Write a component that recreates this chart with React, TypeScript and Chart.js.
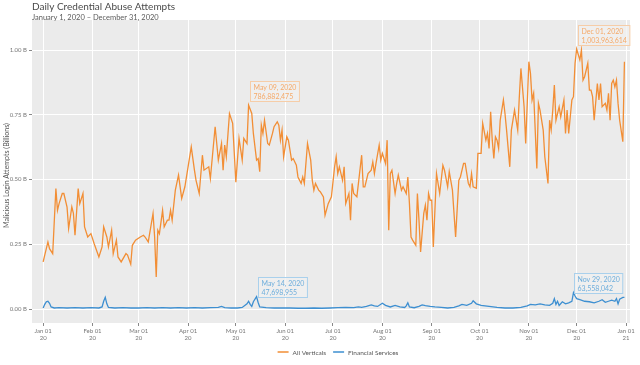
import { useEffect, useRef } from "react";
import { Chart, registerables } from "chart.js";

Chart.register(...registerables);

// Day index (0 = Jan 01 2020) and value in billions
const allVerticalsDays = [
  0, 1, 3, 4, 6, 8, 9, 10, 12, 13, 15, 16, 18, 19, 20, 22, 23, 25, 26, 28, 30, 32, 35, 37, 38, 40, 41, 43, 44, 46, 47, 49,
  52, 53, 55, 56, 58, 61, 63, 64, 66, 69, 70, 71, 72, 73, 75, 76, 78, 79, 80, 81, 83, 85, 87, 89, 91, 93, 95, 96, 98,
  100, 101, 104, 105, 108, 110, 112, 113, 114, 115, 117, 119, 121, 123, 125, 126, 128, 129, 131, 132, 134, 135, 136,
  137, 138, 139, 141, 142, 144, 145, 147, 148, 149, 150, 151, 153, 154, 156, 157, 159, 160, 162, 163, 164, 166, 168,
  169, 170, 171, 173, 174, 176, 177, 179, 181, 183, 184, 185, 186, 188, 189, 190, 192, 193, 194, 195, 197, 200, 201,
  202, 204, 206, 207, 208, 209, 211, 212, 213, 215, 216, 217, 218, 219, 221, 222, 223, 225, 226, 228, 229, 230, 231,
  232, 234, 235, 236, 237, 239, 240, 241, 242, 243, 244, 245, 247, 249, 251, 252, 254, 255, 257, 259, 261, 262, 264,
  265, 267, 268, 269, 270, 272, 273, 275, 276, 278, 279, 280, 281, 282, 283, 284, 285, 286, 287, 289, 290, 291, 293,
  294, 295, 296, 298, 299, 300, 302, 303, 305, 306, 307, 308, 310, 311, 312, 314, 315, 317, 318, 319, 320, 321, 322,
  324, 325, 327, 328, 329, 330, 332, 333, 334, 335, 337, 338, 339, 340, 342, 343, 344, 345, 346, 348, 349, 350, 351,
  353, 354, 355, 356, 357, 358, 359, 360, 361, 362, 364, 365,
];
const allVerticalsValues = [
  0.182, 0.208, 0.259, 0.233, 0.214, 0.465, 0.381, 0.407, 0.446, 0.446, 0.394, 0.311, 0.394, 0.369, 0.285, 0.465, 0.407,
  0.446, 0.317, 0.278, 0.291, 0.253, 0.201, 0.24, 0.317, 0.278, 0.24, 0.304, 0.214, 0.266, 0.201, 0.182,
  0.214, 0.208, 0.173, 0.246, 0.266, 0.278, 0.285, 0.278, 0.259, 0.369, 0.278, 0.124, 0.304, 0.291, 0.381, 0.317, 0.343,
  0.343, 0.381, 0.343, 0.459, 0.517, 0.427, 0.472, 0.549, 0.626, 0.536, 0.497, 0.446,
  0.594, 0.536, 0.549, 0.504, 0.704, 0.575, 0.639, 0.536, 0.633, 0.588, 0.755, 0.717, 0.49, 0.659, 0.575, 0.659, 0.639,
  0.787, 0.755, 0.678, 0.575, 0.581, 0.53,
  0.71, 0.678, 0.729, 0.639, 0.633, 0.678, 0.704, 0.723, 0.71, 0.652, 0.691, 0.588, 0.665, 0.652, 0.575, 0.581, 0.555,
  0.51, 0.485, 0.51, 0.485, 0.639, 0.575,
  0.497, 0.459, 0.485, 0.459, 0.453, 0.433, 0.362, 0.407, 0.433, 0.549, 0.588, 0.523, 0.549, 0.497, 0.549, 0.407, 0.446,
  0.343, 0.485, 0.446, 0.433, 0.594, 0.472,
  0.472, 0.523, 0.536, 0.568, 0.523, 0.562, 0.633, 0.575, 0.601, 0.562, 0.652, 0.304, 0.523, 0.536, 0.446, 0.485, 0.517,
  0.459, 0.472, 0.446, 0.51, 0.407, 0.278,
  0.266, 0.246, 0.446, 0.343, 0.22, 0.369, 0.401, 0.343, 0.446, 0.42, 0.42, 0.24, 0.523, 0.446, 0.555, 0.536, 0.472, 0.53,
  0.459, 0.278, 0.497, 0.51, 0.562,
  0.562, 0.485, 0.472, 0.523, 0.472, 0.466, 0.601, 0.601, 0.717, 0.652, 0.678, 0.62, 0.762, 0.652, 0.581, 0.665, 0.652,
  0.62, 0.729, 0.807, 0.755, 0.691, 0.549,
  0.691, 0.729, 0.768, 0.691, 0.82, 0.929, 0.781, 0.639, 0.955, 0.91, 0.807, 0.833, 0.543, 0.794, 0.768, 0.691, 0.588,
  0.485, 0.729, 0.691, 0.768, 0.865, 0.729,
  0.781, 0.742, 0.807, 0.678, 0.768, 0.678, 0.807, 0.82, 0.949, 1.004, 0.962, 1.0, 0.884, 0.897, 0.949, 0.845, 0.845,
  0.82, 0.729, 0.871, 0.807, 0.871, 0.781,
  0.794, 0.768, 0.833, 0.729, 0.871, 0.884, 0.858, 0.884, 0.794, 0.729, 0.646, 0.955,
];

const financialDays = [
  0, 1, 2, 3, 4, 5, 7, 10, 15, 20, 25, 30, 35, 37, 38, 39, 40, 41, 45, 50, 55, 60, 65, 70, 75, 80, 85, 90, 95, 100, 105,
  110, 112, 114, 118, 122, 125, 128, 129, 130, 131, 132, 134, 135, 136, 140, 145, 150, 155, 160, 165, 170, 175, 180, 185,
  190, 195, 198, 200, 203, 206, 208, 210, 213, 215, 218, 221, 224, 227, 228, 229, 230, 233, 236, 238, 240, 243, 246,
  250, 254, 258, 261, 263, 266, 269, 270, 272, 275, 280, 285, 290, 295, 300, 304, 306, 309, 312, 315, 318, 320, 321,
  322, 323, 324, 326, 328, 330, 332, 333, 334, 335, 337, 340, 343, 346, 349, 351, 353, 355, 357, 359, 360, 361, 362,
  364, 365,
];
const financialValues = [
  0.004, 0.018, 0.028, 0.03, 0.022, 0.008, 0.004, 0.005, 0.004, 0.005, 0.004, 0.005, 0.004, 0.008, 0.03, 0.045, 0.02,
  0.006, 0.004, 0.005, 0.004, 0.004, 0.005, 0.004, 0.005, 0.004, 0.005, 0.004, 0.005, 0.004, 0.005,
  0.006, 0.01, 0.005, 0.004, 0.004, 0.006, 0.02, 0.03, 0.018, 0.01, 0.028, 0.0477, 0.025, 0.008, 0.005, 0.004, 0.004,
  0.004, 0.003, 0.003, 0.004, 0.003, 0.004, 0.005,
  0.006, 0.005, 0.008, 0.006, 0.01, 0.016, 0.012, 0.01, 0.022, 0.014, 0.008, 0.014, 0.008, 0.006, 0.012, 0.024, 0.008,
  0.005, 0.01, 0.016, 0.013, 0.01, 0.008,
  0.006, 0.004, 0.006, 0.012, 0.018, 0.014, 0.022, 0.032, 0.02, 0.014, 0.01, 0.006, 0.004, 0.004, 0.006, 0.012, 0.018,
  0.016, 0.02, 0.016, 0.014, 0.022, 0.04,
  0.018, 0.03, 0.014, 0.028, 0.02, 0.024, 0.03, 0.0636, 0.05, 0.04, 0.036, 0.03, 0.028, 0.024, 0.03, 0.036, 0.026, 0.03,
  0.034, 0.03, 0.04, 0.02, 0.038,
  0.045, 0.045,
];

const monthTickDays = [0, 31, 60, 91, 121, 152, 182, 213, 244, 274, 305, 335, 366];
const monthTickLabels = [
  ["Jan 01", "20"], ["Feb 01", "20"], ["Mar 01", "20"], ["Apr 01", "20"], ["May 01", "20"], ["Jun 01", "20"],
  ["Jul 01", "20"], ["Aug 01", "20"], ["Sep 01", "20"], ["Oct 01", "20"], ["Nov 01", "20"], ["Dec 01", "20"],
  ["Jan 01", "21"],
];
const yTickValues = [0, 0.25, 0.5, 0.75, 1.0];
const yTickLabels = ["0.00 B", "0.25 B", "0.50 B", "0.75 B", "1.00 B"];

const seriesNames = ["All Verticals", "Financial Services"];
const seriesColors = ["#f28e35", "#3d8fd1"];
const annotationLineColors = ["#f5a968", "#6eaedc"];
const annotationBorderColors = ["#f6cda8", "#a9d0ec"];

const annotationDays = [129, 335, 134, 333];
const annotationValues = [0.786882475, 1.003963614, 0.047698955, 0.063558042];
const annotationDates = ["May 09, 2020", "Dec 01, 2020", "May 14, 2020", "Nov 29, 2020"];
const annotationTexts = ["786,882,475", "1,003,963,614", "47,698,955", "63,558,042"];
const annotationSeries = [0, 0, 1, 1];

const titleText = "Daily Credential Abuse Attempts";
const subtitleText = "January 1, 2020 \u2013 December 31, 2020";
const yAxisTitle = "Malicious Login Attempts (Billions)";
const FONT = "Lato, 'Noto Sans', sans-serif";

const decorPlugin = {
  id: "decor",
  beforeDraw(chart: any) {
    const { ctx, chartArea: a } = chart;
    ctx.save();
    ctx.fillStyle = "#ebebeb";
    ctx.fillRect(a.left, a.top, a.right - a.left, a.bottom - a.top);
    ctx.restore();
  },
  afterDatasetsDraw(chart: any) {
    const { ctx } = chart;
    const xs = chart.scales.x;
    const ys = chart.scales.y;
    ctx.save();
    ctx.font = `7px ${FONT}`;
    for (let i = 0; i < annotationDays.length; i++) {
      const s = annotationSeries[i];
      const px = xs.getPixelForValue(annotationDays[i]);
      const py = ys.getPixelForValue(annotationValues[i]);
      const w = Math.max(ctx.measureText(annotationDates[i]).width, ctx.measureText(annotationTexts[i]).width) + 6;
      const h = 20;
      const left = Math.round(px + 1) + 0.5;
      const bottom = Math.round(py - (s === 0 ? 4 : 0)) + 0.5;
      ctx.fillStyle = "rgba(240,240,240,0.75)";
      ctx.fillRect(left, bottom - h, w, h);
      ctx.strokeStyle = annotationBorderColors[s];
      ctx.lineWidth = 1;
      ctx.strokeRect(left, bottom - h, w, h);
      ctx.fillStyle = annotationLineColors[s];
      ctx.textBaseline = "alphabetic";
      ctx.textAlign = "left";
      ctx.fillText(annotationDates[i], left + 3, bottom - h + 8);
      ctx.fillText(annotationTexts[i], left + 3, bottom - h + 17);
    }
    ctx.restore();
  },
  afterDraw(chart: any) {
    const { ctx, chartArea: a } = chart;
    ctx.save();
    // titles
    ctx.textAlign = "left";
    ctx.textBaseline = "alphabetic";
    ctx.fillStyle = "#4a4a4a";
    ctx.font = `10px ${FONT}`;
    ctx.fillText(titleText, 32, 10);
    ctx.fillStyle = "#5a5a5a";
    ctx.font = `7.5px ${FONT}`;
    ctx.fillText(subtitleText, 32, 20);
    // y axis title
    ctx.save();
    ctx.translate(7, (a.top + a.bottom) / 2 + 4);
    ctx.rotate(-Math.PI / 2);
    ctx.textAlign = "center";
    ctx.textBaseline = "middle";
    ctx.fillStyle = "#555";
    ctx.font = `7px ${FONT}`;
    ctx.fillText(yAxisTitle, 0, 0);
    ctx.restore();
    // legend
    ctx.font = `6.5px ${FONT}`;
    const lineW = 11;
    const gapLineText = 4;
    const gapItems = 7;
    const widths = seriesNames.map((n) => ctx.measureText(n).width);
    let total = 0;
    widths.forEach((w, i) => {
      total += lineW + gapLineText + w + (i < widths.length - 1 ? gapItems : 0);
    });
    let x = 338 - total / 2;
    const ly = 352;
    seriesNames.forEach((n, i) => {
      ctx.strokeStyle = seriesColors[i];
      ctx.lineWidth = 1.5;
      ctx.beginPath();
      ctx.moveTo(x, ly);
      ctx.lineTo(x + lineW, ly);
      ctx.stroke();
      x += lineW + gapLineText;
      ctx.fillStyle = "#555";
      ctx.textAlign = "left";
      ctx.textBaseline = "middle";
      ctx.fillText(n, x, ly + 0.5);
      x += widths[i] + gapItems;
    });
    ctx.restore();
  },
};

export default function App() {
  const ref = useRef<HTMLCanvasElement>(null);
  useEffect(() => {
    if (!ref.current) return;
    const makePts = (d: number[], v: number[]) => d.map((x, i) => ({ x, y: v[i] }));
    const chart = new Chart(ref.current, {
      type: "line",
      data: {
        datasets: [
          {
            label: seriesNames[0],
            data: makePts(allVerticalsDays, allVerticalsValues),
            borderColor: seriesColors[0],
            backgroundColor: seriesColors[0],
            borderWidth: 1.3,
            pointRadius: 0,
            tension: 0,
          },
          {
            label: seriesNames[1],
            data: makePts(financialDays, financialValues),
            borderColor: seriesColors[1],
            backgroundColor: seriesColors[1],
            borderWidth: 1.3,
            pointRadius: 0,
            tension: 0,
          },
        ],
      },
      options: {
        animation: false,
        responsive: false,
        maintainAspectRatio: false,
        devicePixelRatio: 1,
        layout: { padding: { top: 20, right: 10, bottom: 22, left: 0 } },
        plugins: { legend: { display: false }, tooltip: { enabled: false }, title: { display: false } },
        scales: {
          x: {
            type: "linear",
            min: -7,
            max: 368.5,
            afterBuildTicks: (s: any) => {
              s.ticks = monthTickDays.map((v) => ({ value: v }));
            },
            afterFit: (s: any) => {
              s.height = 20;
            },
            ticks: {
              autoSkip: false,
              maxRotation: 0,
              padding: 1,
              color: "#777",
              font: { family: FONT, size: 6 },
              callback: (v: any) => {
                const i = monthTickDays.indexOf(Number(v));
                return i >= 0 ? monthTickLabels[i] : "";
              },
            },
            grid: { color: "#ffffff", lineWidth: 1, tickLength: 3, tickColor: "#888" },
            border: { display: false },
          },
          y: {
            type: "linear",
            min: -0.054,
            max: 1.116,
            afterBuildTicks: (s: any) => {
              s.ticks = yTickValues.map((v) => ({ value: v }));
            },
            afterFit: (s: any) => {
              s.width = 32;
            },
            ticks: {
              padding: 2,
              color: "#777",
              font: { family: FONT, size: 6 },
              callback: (v: any) => {
                const i = yTickValues.indexOf(Number(v));
                return i >= 0 ? yTickLabels[i] : "";
              },
            },
            grid: { color: "#ffffff", lineWidth: 1, tickLength: 3, tickColor: "#888" },
            border: { display: false },
          },
        },
      },
      plugins: [decorPlugin],
    });
    return () => chart.destroy();
  }, []);
  return (
    <div style={{ position: "fixed", left: 0, top: 0, width: 640, height: 365, background: "#fff" }}>
      <canvas ref={ref} width={640} height={365} style={{ width: 640, height: 365, display: "block" }} />
    </div>
  );
}
